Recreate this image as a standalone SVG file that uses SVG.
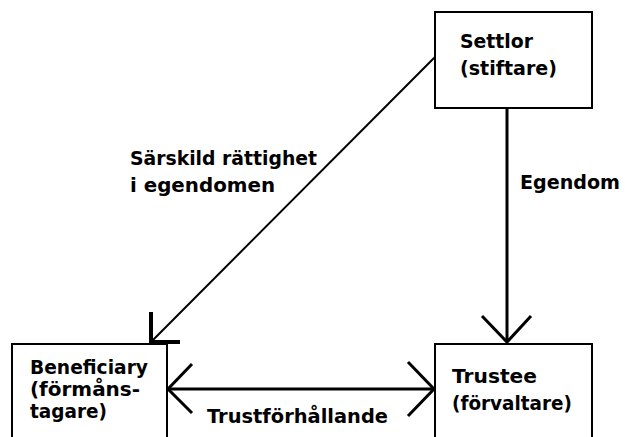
<svg xmlns="http://www.w3.org/2000/svg" width="625" height="437" viewBox="0 0 625 437">
<style>
.box{fill:#fff;stroke:#000;stroke-width:2}
.t{font-family:"DejaVu Sans","Liberation Sans",sans-serif;font-weight:bold;font-size:20px;fill:#000}
.s{font-size:19px}
.ln{fill:none;stroke:#000;stroke-linecap:butt}
</style>
<rect width="625" height="437" fill="#fff"/>
<g id="connectors">
<g id="settlor-beneficiary">
<line class="ln" x1="435" y1="57" x2="152" y2="341" stroke-width="2"/>
<polyline class="ln" points="151,312 151,342 180,342" stroke-width="4"/>
</g>
<g id="settlor-trustee">
<line class="ln" x1="507" y1="108" x2="507" y2="342" stroke-width="3"/>
<polyline class="ln" points="482,316 507,342 531,316" stroke-width="3"/>
</g>
<g id="beneficiary-trustee">
<line class="ln" x1="168" y1="389" x2="434" y2="389" stroke-width="3"/>
<polyline class="ln" points="192,364 168,389 192,413" stroke-width="3"/>
<polyline class="ln" points="408,362 434,389 408,416" stroke-width="3"/>
</g>
<text class="t" x="130" y="165" textLength="187" lengthAdjust="spacingAndGlyphs">Särskild rättighet</text>
<text class="t" x="130" y="192" textLength="145" lengthAdjust="spacingAndGlyphs">i egendomen</text>
<text class="t" x="520" y="189" textLength="100" lengthAdjust="spacingAndGlyphs">Egendom</text>
<text class="t" x="207" y="423" textLength="181" lengthAdjust="spacingAndGlyphs">Trustförhållande</text>
</g>
<g id="settlor">
<rect class="box" x="435" y="12" width="157" height="96"/>
<text class="t" x="460" y="48" textLength="73" lengthAdjust="spacingAndGlyphs">Settlor</text>
<text class="t" x="460" y="75" textLength="97" lengthAdjust="spacingAndGlyphs">(stiftare)</text>
</g>
<g id="beneficiary">
<rect class="box" x="12" y="344" width="155" height="110"/>
<text class="t s" x="30" y="374" textLength="118" lengthAdjust="spacingAndGlyphs">Beneficiary</text>
<text class="t s" x="30" y="396" textLength="110" lengthAdjust="spacingAndGlyphs">(förmåns-</text>
<text class="t s" x="30" y="418" textLength="77" lengthAdjust="spacingAndGlyphs">tagare)</text>
</g>
<g id="trustee">
<rect class="box" x="435" y="344" width="157" height="110"/>
<text class="t" x="452" y="383" textLength="85" lengthAdjust="spacingAndGlyphs">Trustee</text>
<text class="t" x="452" y="410" textLength="120" lengthAdjust="spacingAndGlyphs">(förvaltare)</text>
</g>
</svg>
